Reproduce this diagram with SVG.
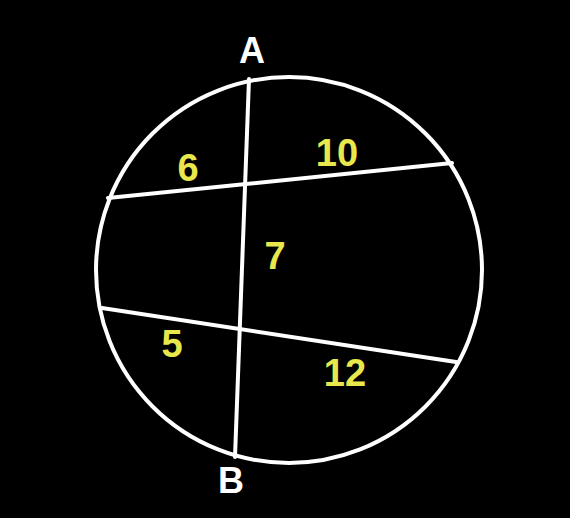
<svg xmlns="http://www.w3.org/2000/svg" width="570" height="518" viewBox="0 0 570 518">
<style>
.ln{stroke:#ffffff;stroke-width:4;fill:none;stroke-linecap:round}
.lbl{font-family:"Liberation Sans",Arial,sans-serif;font-weight:bold;font-size:36px;fill:#ffffff;text-anchor:middle}
.num{font-family:"Liberation Sans",Arial,sans-serif;font-weight:bold;font-size:38px;fill:#e8e84c;text-anchor:middle}
</style>
<rect width="570" height="518" fill="#000000"/>
<g id="connectors">
<circle class="ln" cx="289" cy="270" r="193"/>
<line class="ln" x1="249" y1="79" x2="235" y2="457"/>
<line class="ln" x1="108" y1="198" x2="452" y2="163"/>
<line class="ln" x1="102" y1="308" x2="456" y2="362"/>
</g>
<g id="label-A"><text class="lbl" x="252" y="63">A</text></g>
<g id="label-B"><text class="lbl" x="231" y="493">B</text></g>
<g id="region-6"><text class="num" x="188" y="181">6</text></g>
<g id="region-10"><text class="num" x="337" y="166">10</text></g>
<g id="region-7"><text class="num" x="275" y="269">7</text></g>
<g id="region-5"><text class="num" x="172" y="357">5</text></g>
<g id="region-12"><text class="num" x="345" y="386">12</text></g>
</svg>
